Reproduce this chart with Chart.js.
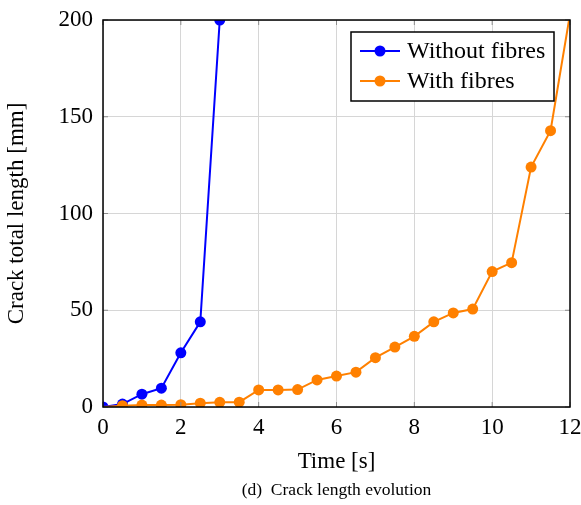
<!DOCTYPE html>
<html>
<head>
<meta charset="utf-8">
<script src="https://cdn.jsdelivr.net/npm/chart.js@4.4.0/dist/chart.umd.min.js"></script>
<style>
    html, body { margin: 0; padding: 0; background: #fff; }
    #wrap { position: relative; width: 581px; height: 505px; }
    #caption {
        position: absolute; left: 103px; width: 467px; top: 479px;
        text-align: center; font-family: 'Liberation Serif', 'Times New Roman', serif;
        font-size: 17.5px; color: #000; line-height: 20px;
    }
</style>
</head>
<body>
<div id="wrap">
    <canvas id="chart" width="581" height="505"></canvas>
    <div id="caption">(d)&nbsp; Crack length evolution</div>
</div>
<script>
// Data
const timeNoFibres = [0, 0.5, 1, 1.5, 2, 2.5, 3];
const lengthNoFibres = [0, 1.5, 6.6, 9.7, 28, 44, 200];

const timeFibres = [0, 0.5, 1, 1.5, 2, 2.5, 3, 3.5, 4, 4.5, 5, 5.5, 6, 6.5, 7, 7.5, 8, 8.5, 9, 9.5, 10, 10.5, 11, 11.5, 12];
const lengthFibres = [0, 0.7, 1, 1, 1.2, 2, 2.4, 2.5, 8.8, 8.8, 9, 14, 16, 18, 25.5, 31, 36.5, 44, 48.6, 50.6, 70, 74.6, 124, 142.8, 203];

const xTicks = [0, 2, 4, 6, 8, 10, 12];
const yTicks = [0, 50, 100, 150, 200];

const BLUE = '#0000ff';
const ORANGE = '#ff8000';
const FONT = "'Liberation Serif', 'Times New Roman', serif";

function toPoints(xs, ys) {
    return xs.map((x, i) => ({ x: x, y: ys[i] }));
}

// Box around the plot with small inner ticks, plus the legend
const framePlugin = {
    id: 'frame',
    afterDatasetsDraw(chart) {
        const { ctx, chartArea: a, scales } = chart;
        ctx.save();
        ctx.strokeStyle = '#8c8c8c';
        ctx.lineWidth = 1;
        const len = 5;
        xTicks.forEach(v => {
            const px = scales.x.getPixelForValue(v);
            ctx.beginPath();
            ctx.moveTo(px, a.bottom); ctx.lineTo(px, a.bottom - len);
            ctx.moveTo(px, a.top); ctx.lineTo(px, a.top + len);
            ctx.stroke();
        });
        yTicks.forEach(v => {
            const py = scales.y.getPixelForValue(v);
            ctx.beginPath();
            ctx.moveTo(a.left, py); ctx.lineTo(a.left + len, py);
            ctx.moveTo(a.right, py); ctx.lineTo(a.right - len, py);
            ctx.stroke();
        });
        ctx.strokeStyle = '#000';
        ctx.lineWidth = 1.5;
        ctx.strokeRect(a.left, a.top, a.right - a.left, a.bottom - a.top);
        ctx.restore();
    },
    afterDraw(chart) {
        const { ctx, chartArea: a } = chart;
        const right = a.right - 16, top = a.top + 12;
        const w = 203, h = 69;
        const left = right - w;
        ctx.save();
        ctx.fillStyle = '#fff';
        ctx.fillRect(left, top, w, h);
        ctx.strokeStyle = '#000';
        ctx.lineWidth = 1.5;
        ctx.strokeRect(left, top, w, h);
        const entries = [
            { label: 'Without fibres', color: BLUE },
            { label: 'With fibres', color: ORANGE }
        ];
        entries.forEach((e, i) => {
            const y = top + 19 + i * 30;
            ctx.strokeStyle = e.color;
            ctx.lineWidth = 2;
            ctx.beginPath();
            ctx.moveTo(left + 9, y); ctx.lineTo(left + 49, y);
            ctx.stroke();
            ctx.fillStyle = e.color;
            ctx.beginPath();
            ctx.arc(left + 29, y, 5.5, 0, Math.PI * 2);
            ctx.fill();
            ctx.fillStyle = '#000';
            ctx.font = '24px ' + FONT;
            ctx.textBaseline = 'middle';
            ctx.textAlign = 'left';
            ctx.fillText(e.label, left + 56, y + 1);
        });
        ctx.restore();
    }
};

const ctx = document.getElementById('chart').getContext('2d');
new Chart(ctx, {
    type: 'line',
    data: {
        datasets: [
            {
                label: 'Without fibres',
                data: toPoints(timeNoFibres, lengthNoFibres),
                borderColor: BLUE,
                backgroundColor: BLUE,
                borderWidth: 2,
                pointRadius: 5.5,
                pointBorderWidth: 0,
                tension: 0,
                order: 1
            },
            {
                label: 'With fibres',
                data: toPoints(timeFibres, lengthFibres),
                borderColor: ORANGE,
                backgroundColor: ORANGE,
                borderWidth: 2,
                pointRadius: timeFibres.map((t, i) => i === 0 ? 0 : 5.5),
                pointBorderWidth: 0,
                tension: 0,
                clip: 0,
                order: 0
            }
        ]
    },
    options: {
        responsive: false,
        animation: false,
        layout: { padding: { top: 20, right: 11, bottom: 0, left: 0 } },
        plugins: {
            legend: { display: false },
            tooltip: { enabled: false }
        },
        scales: {
            x: {
                type: 'linear',
                min: 0, max: 12,
                afterBuildTicks: s => { s.ticks = xTicks.map(v => ({ value: v })); },
                afterFit: s => { s.height = 98; s.paddingLeft = 0; s.paddingRight = 0; },
                ticks: { color: '#000', font: { family: FONT, size: 23 }, padding: 7, maxRotation: 0 },
                grid: { color: '#d6d6d6', lineWidth: 1, drawTicks: false },
                border: { display: false },
                title: {
                    display: true, text: 'Time [s]', color: '#000',
                    font: { family: FONT, size: 23 }, padding: { top: 0, bottom: 29 }
                }
            },
            y: {
                type: 'linear',
                min: 0, max: 200,
                afterBuildTicks: s => { s.ticks = yTicks.map(v => ({ value: v })); },
                afterFit: s => { s.width = 103; s.paddingTop = 0; s.paddingBottom = 0; },
                ticks: { color: '#000', font: { family: FONT, size: 23 }, padding: 10 },
                grid: { color: '#d6d6d6', lineWidth: 1, drawTicks: false },
                border: { display: false },
                title: {
                    display: true, text: 'Crack total length [mm]', color: '#000',
                    font: { family: FONT, size: 23 }, padding: { top: 3, bottom: 0 }
                }
            }
        }
    },
    plugins: [framePlugin]
});
</script>
</body>
</html>
